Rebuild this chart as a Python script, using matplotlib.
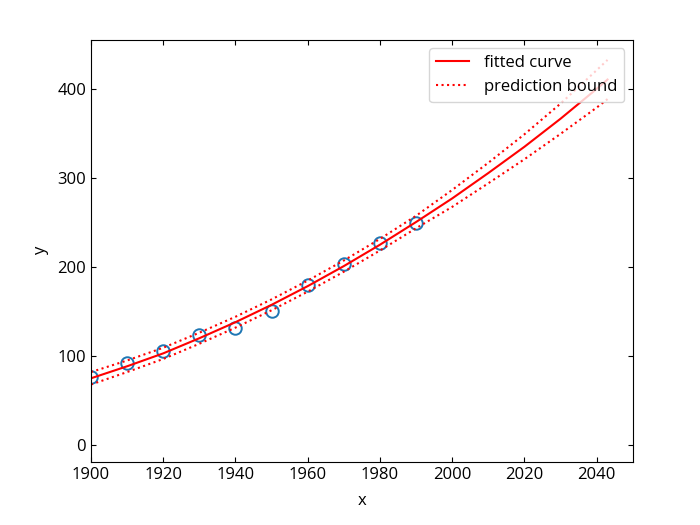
import numpy as np
import matplotlib.pyplot as plt

plt.rcParams['font.family'] = ['Open Sans', 'DejaVu Sans']

# census data (points)
census_years = np.array([1900, 1910, 1920, 1930, 1940, 1950, 1960, 1970, 1980, 1990])
census_pop = np.array([75.995, 91.972, 105.711, 123.203, 131.669,
                       150.697, 179.323, 203.212, 226.505, 249.633])

# fitted curve and prediction half-width
fit_years = np.array([1900, 1910, 1920, 1930, 1940, 1950, 1960, 1970,
                      1980, 1990, 2000, 2010, 2020, 2030, 2040, 2043])
fit_pop = np.array([75, 88.5, 103, 120, 138, 157.5, 178.5, 201,
                    225, 250.5, 277, 305.5, 335, 366.5, 400, 410.5])
half_width = np.array([7, 6.5, 6.3, 6.2, 6.1, 6.1, 6.2, 6.3,
                       6.5, 7, 9.5, 11.5, 14, 17, 21, 22])

fig = plt.figure(figsize=(7, 5.25), dpi=100)
ax = fig.add_axes([0.13, 0.12, 0.774, 0.804])

ax.plot(census_years, census_pop, 'o', mfc='none', mec='#1f77b4',
        ms=9, mew=1.4)
ax.plot(fit_years, fit_pop, 'r-', label='fitted curve')
ax.plot(fit_years, fit_pop + half_width, 'r:', label='prediction bound')
ax.plot(fit_years, fit_pop - half_width, 'r:')

ax.set_xlim(1900, 2050)
ax.set_ylim(-19, 455)
ax.set_xlabel('x', fontsize=12, labelpad=7)
ax.set_ylabel('y', fontsize=12, labelpad=6)
ax.tick_params(direction='in', top=True, right=True, labelsize=12)
ax.legend(loc='upper right', fontsize=12, handletextpad=0.9)

fig.savefig('out.png')
